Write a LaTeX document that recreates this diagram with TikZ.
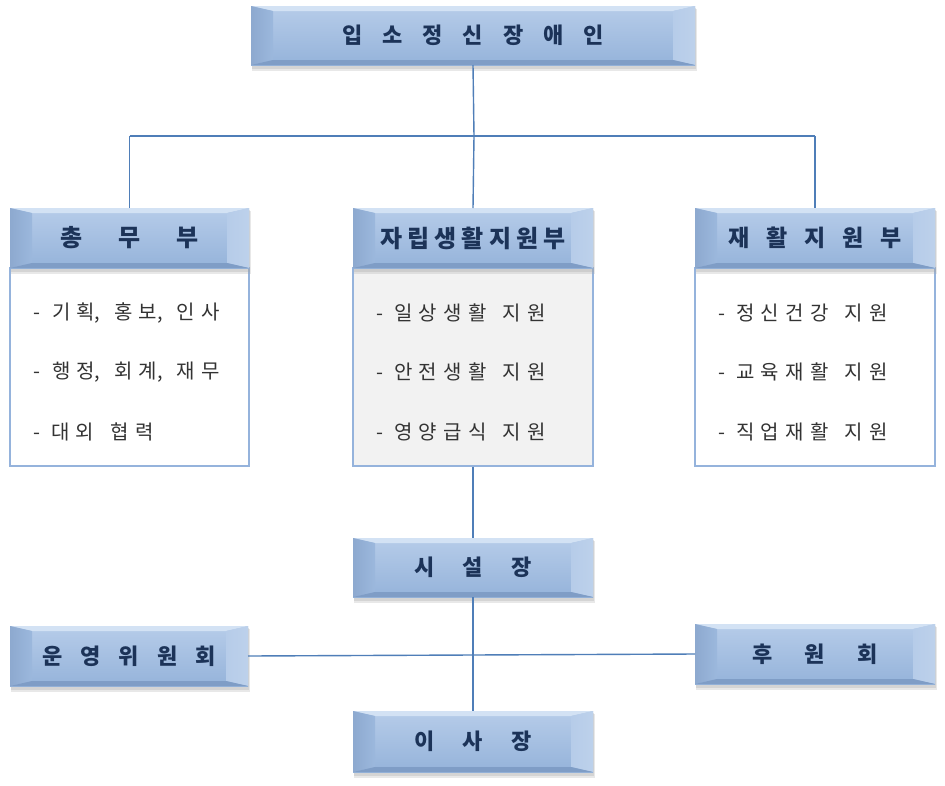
\documentclass[tikz,border=0pt]{standalone}
\usepackage{fontspec}
\setmainfont{Noto Sans CJK KR}
\newfontfamily\bodyfont[LetterSpace=32]{Noto Sans CJK KR}
\newfontfamily\bodytight{Noto Sans CJK KR}
\usetikzlibrary{calc}
\definecolor{facetop}{HTML}{B6CCE9}
\definecolor{facebot}{HTML}{95B3DA}
\definecolor{bevtop}{HTML}{D3E2F4}
\definecolor{bevleft}{HTML}{8DA9CF}
\definecolor{bevright}{HTML}{BDD1EB}
\definecolor{bevbot}{HTML}{7F9DC6}
\definecolor{hdrtext}{HTML}{1C3358}
\definecolor{linec}{HTML}{4F7EB8}
\definecolor{bodyline}{HTML}{95B3DC}
\definecolor{bodytext}{HTML}{333333}
\definecolor{midfill}{HTML}{F2F2F2}
\newcommand\gp[1]{\hspace{#1pt}}
% bevel box: name, x1, y1, x2, y2, text
\newcommand\bev[6]{%
  \fill[black!35,opacity=0.25] (#2+1,#3+3) rectangle (#4+2,#5+6);
  \fill[black!35,opacity=0.3] (#2+1,#3+2) rectangle (#4+1,#5+4);
  \shade[top color=facetop,bottom color=facebot] (#2,#3) rectangle (#4,#5);
  \fill[bevtop] (#2,#3) -- (#4,#3) -- (#4-22,#3+5) -- (#2+22,#3+5) -- cycle;
  \shade[left color=bevleft,right color=facebot!80!facetop] (#2,#3) -- (#2+22,#3+5) -- (#2+22,#5-5) -- (#2,#5) -- cycle;
  \shade[left color=facetop,right color=bevright] (#4,#3) -- (#4-22,#3+5) -- (#4-22,#5-5) -- (#4,#5) -- cycle;
  \fill[bevbot] (#2,#5) -- (#4,#5) -- (#4-22,#5-5) -- (#2+22,#5-5) -- cycle;
  \pgfmathsetmacro\bw{#4-#2}\pgfmathsetmacro\bh{#5-#3}
  \node[hdr,minimum width=\bw pt,minimum height=\bh pt] (#1) at ({(#2+#4)/2},{(#3+#5)/2}) {#6};
}
\tikzset{
  hdr/.style={inner sep=0pt,outer sep=0pt,text=hdrtext,font=\fontsize{22}{26}\selectfont\bfseries},
  bodybox/.style={draw=bodyline,line width=1.2pt,fill=white},
  item/.style={anchor=west,inner sep=0pt,text=bodytext,font=\bodyfont\fontsize{20}{24}\selectfont},
  itemt/.style={item,font=\bodytight\fontsize{20}{24}\selectfont},
  conn/.style={draw=linec,line width=1.4pt}
}
\begin{document}
\begin{tikzpicture}[x=1pt,y=-1pt]
\useasboundingbox (0,0) rectangle (945,785);
\fill[white] (0,0) rectangle (945,785);
% body boxes
\node[bodybox,minimum width=239pt,minimum height=198pt,inner sep=0pt] (genbody) at (129.5,367) {};
\node[bodybox,fill=midfill,minimum width=240pt,minimum height=198pt,inner sep=0pt] (indbody) at (473,367) {};
\node[bodybox,minimum width=240pt,minimum height=198pt,inner sep=0pt] (rehbody) at (815,367) {};
% top
\bev{top}{251}{6}{695}{65}{입\gp{20}소\gp{20}정\gp{20}신\gp{20}장\gp{20}애\gp{20}인}
\bev{gen}{10}{208}{249}{268}{\fontsize{24}{28}\selectfont 총\gp{36}무\gp{36}부}
\bev{ind}{353}{208}{593}{268}{\fontsize{24}{28}\selectfont 자\gp{5}립\gp{5}생\gp{5}활\gp{5}지\gp{5}원\gp{5}부}
\bev{reh}{695}{208}{935}{268}{\fontsize{23}{28}\selectfont 재\gp{17}활\gp{17}지\gp{17}원\gp{17}부}
\bev{dir}{353}{538}{593}{597}{시\gp{28}설\gp{28}장}
\bev{com}{10}{626}{248}{686}{운\gp{18}영\gp{18}위\gp{18}원\gp{18}회}
\bev{sup}{695}{624}{935}{684}{후\gp{32}원\gp{32}회}
\bev{chair}{353}{711}{593}{772}{이\gp{28}사\gp{28}장}
% items
\node[itemt] (g1) at (33,313) {-\gp{12}기\gp{6}획,\gp{14}홍\gp{6}보,\gp{14}인\gp{6}사};
\node[itemt] (g2) at (33,372) {-\gp{12}행\gp{6}정,\gp{14}회\gp{6}계,\gp{14}재\gp{6}무};
\node[item] (g3) at (33,432) {- 대외\gp{16}협력};
\node[item] (i1) at (376,313) {- 일상생활\gp{16}지원};
\node[item] (i2) at (376,372) {- 안전생활\gp{16}지원};
\node[item] (i3) at (376,432) {- 영양급식\gp{16}지원};
\node[item] (r1) at (718,313) {- 정신건강\gp{16}지원};
\node[item] (r2) at (718,372) {- 교육재활\gp{16}지원};
\node[item] (r3) at (718,432) {- 직업재활\gp{16}지원};
% connectors
\coordinate (bus) at (474,136);
\coordinate (busl) at (gen.north |- bus);
\coordinate (busr) at (reh.north |- bus);
\draw[conn] (top.south) -- (bus);
\draw[conn] (busl) -- (busr);
\draw[conn] (busl) -- (gen.north);
\draw[conn] (busr) -- (reh.north);
\draw[conn] (bus) -- (ind.north);
\draw[conn] (indbody.south) -- (dir.north);
\draw[conn] (dir.south) -- (chair.north);
\draw[conn] (com.east) -- (sup.west);
\end{tikzpicture}
\end{document}
